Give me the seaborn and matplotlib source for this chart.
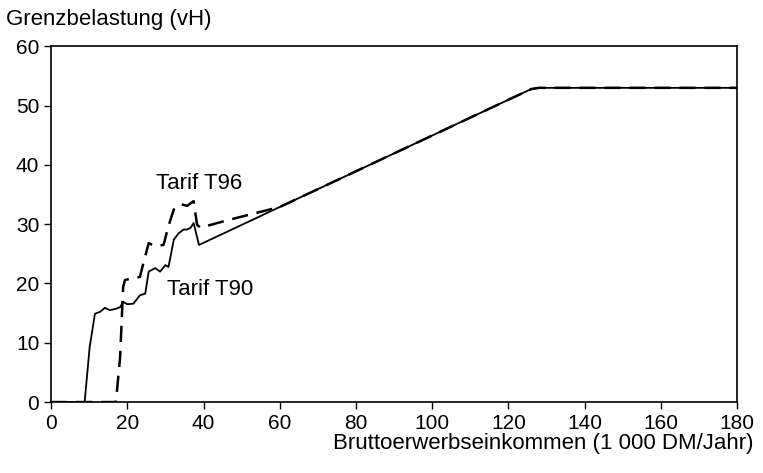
import pandas as pd
import matplotlib
matplotlib.use("Agg")
import matplotlib.pyplot as plt
import seaborn as sns

# income (1 000 DM/Jahr) and marginal burden (vH)
t90_x = [0, 8.8, 10.1, 11.5, 12.8, 14.1, 15.4, 16.8, 18.1, 18.9, 20.0, 21.6,
         23.3, 24.7, 25.6, 27.3, 28.6, 30.0, 30.8, 32.2, 33.5, 34.8, 35.7,
         36.6, 37.4, 38.8, 60, 126, 128, 180]
t90_y = [0, 0, 9.2, 14.9, 15.2, 15.9, 15.5, 15.7, 16.0, 16.9, 16.5, 16.6,
         18.0, 18.3, 22.0, 22.6, 22.0, 23.1, 22.8, 27.4, 28.5, 29.1, 29.1,
         29.4, 30.2, 26.5, 32.9, 52.8, 53.0, 53.0]

t96_x = [0, 17.0, 18.1, 18.9, 19.4, 23.3, 24.2, 25.6, 27.3, 29.5, 30.8,
         32.2, 33.9, 35.7, 37.4, 38.3, 39.2, 43.6, 48.9, 60, 126, 128, 180]
t96_y = [0, 0, 7.5, 19.4, 20.6, 21.1, 23.4, 26.8, 26.3, 26.5, 29.7,
         32.5, 33.4, 33.1, 33.9, 29.9, 29.4, 30.2, 31.1, 32.9, 52.8, 53.0, 53.0]

df = pd.concat([
    pd.DataFrame({"einkommen": t90_x, "belastung": t90_y, "tarif": "T90"}),
    pd.DataFrame({"einkommen": t96_x, "belastung": t96_y, "tarif": "T96"}),
])

sns.set_style("ticks")
plt.rcParams["font.family"] = ["Liberation Sans", "DejaVu Sans"]
plt.rcParams["text.color"] = "black"

fig, ax = plt.subplots(figsize=(7.63, 4.73), dpi=100)
fig.subplots_adjust(left=0.067, right=0.966, bottom=0.15, top=0.902)

sns.lineplot(data=df, x="einkommen", y="belastung", style="tarif",
             dashes={"T90": "", "T96": (6.5, 3.5)}, color="black",
             estimator=None, sort=False, legend=False, ax=ax)
for line, lw in zip(ax.lines, [1.3, 1.8]):
    line.set_linewidth(lw)

ax.set_xlim(0, 180)
ax.set_ylim(0, 60)
ax.set_xticks(range(0, 181, 20))
ax.set_yticks(range(0, 61, 10))
ax.set_xlabel("")
ax.set_ylabel("")
ax.tick_params(labelsize=15, width=1, length=5, direction="out", colors="black")
for sp in ax.spines.values():
    sp.set_visible(True)
    sp.set_linewidth(1.2)
    sp.set_color("black")

ax.text(27.6, 36.8, "Tarif T96", fontsize=16, ha="left", va="center")
ax.text(30.5, 19.0, "Tarif T90", fontsize=16, ha="left", va="center")

fig.text(0.008, 0.958, "Grenzbelastung (vH)", fontsize=16, ha="left", va="center")
fig.text(0.988, 0.062, "Bruttoerwerbseinkommen (1 000 DM/Jahr)", fontsize=16,
         ha="right", va="center")

fig.savefig("out.png", dpi=100)
